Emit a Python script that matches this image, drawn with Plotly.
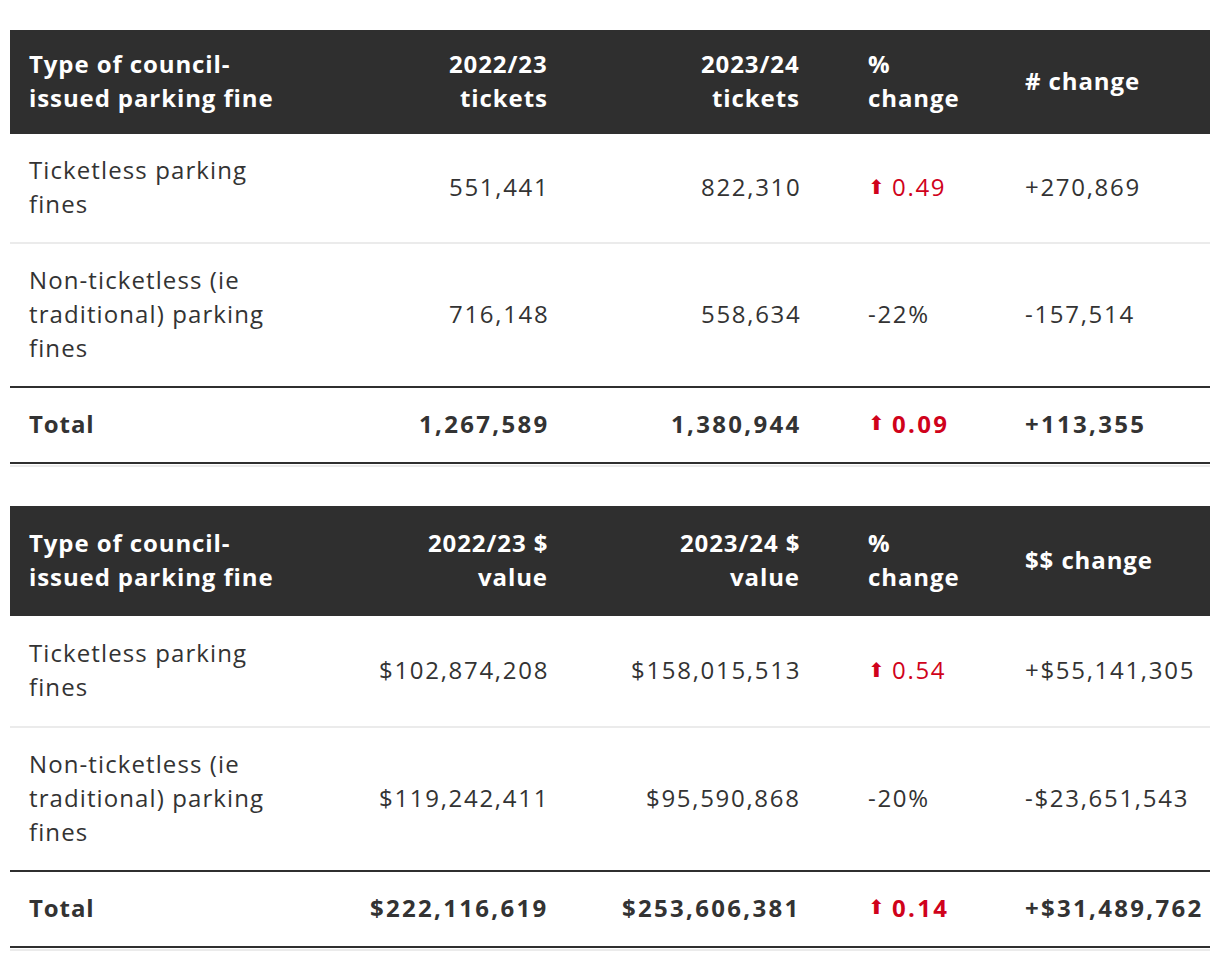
import plotly.graph_objects as go

# ---------------- data ----------------
row_labels = ["Ticketless parking<br>fines",
              "Non-ticketless (ie<br>traditional) parking<br>fines",
              "Total"]

t1_headers = ["Type of council-<br>issued parking fine", "2022/23<br>tickets",
              "2023/24<br>tickets", "%<br>change", "# change"]
tickets_2022_23 = [551441, 716148, 1267589]
tickets_2023_24 = [822310, 558634, 1380944]
tickets_pct_change = [0.49, -0.22, 0.09]
tickets_num_change = [270869, -157514, 113355]

t2_headers = ["Type of council-<br>issued parking fine", "2022/23 $<br>value",
              "2023/24 $<br>value", "%<br>change", "$$ change"]
value_2022_23 = [102874208, 119242411, 222116619]
value_2023_24 = [158015513, 95590868, 253606381]
value_pct_change = [0.54, -0.20, 0.14]
value_dollar_change = [55141305, -23651543, 31489762]

# ---------------- style ----------------
W, H = 1220, 958
OFF = 8  # page body margin
FONT = "'Open Sans', sans-serif"
DARK = "#2f2f2f"
TEXT = "#333333"
RED = "#d0021b"
LIGHT = "#ebebeb"
FS = 24
LINE_H = 34
DY = -2
X0, X1 = 10, 1210
COL_X = [27, 549, 801, 866, 1023]
COL_ANCHOR = ["left", "right", "right", "left", "left"]
ARROW_GAP = 24
# letter spacing (px) by (bold, numeric)
SPACING = {(False, False): 1.1, (False, True): 1.7, (True, False): 0.9, (True, True): 2.3}

fig = go.Figure()
fig.add_trace(go.Scatter(x=[OFF, W + OFF], y=[OFF, H + OFF], mode="markers",
                         marker=dict(opacity=0), hoverinfo="skip", showlegend=False))


def fmt_int(v):
    return f"{v:,}"


def fmt_dollar(v):
    return f"${v:,}"


def fmt_change(v, dollar=False):
    sign = "+" if v >= 0 else "-"
    return sign + ("$" if dollar else "") + f"{abs(v):,}"


def add_lines(x, yc, text, anchor, color, bold, numeric=False, size=FS):
    lines = text.split("<br>")
    n = len(lines)
    sp = SPACING[(bold, numeric)]
    for i, ln in enumerate(lines):
        y = yc + DY + (i - (n - 1) / 2) * LINE_H
        t = f"<span style='letter-spacing:{sp}px'>{ln}</span>"
        if bold:
            t = f"<b>{t}</b>"
        fig.add_annotation(x=x + (sp if anchor == "right" else 0), y=y, xref="x", yref="y",
                           text=t, showarrow=False, xanchor=anchor, yanchor="middle",
                           font=dict(family=FONT, size=size, color=color))


def add_pct(x, yc, v, bold):
    if v >= 0:
        fig.add_annotation(x=x, y=yc + DY, xref="x", yref="y", text="⬆", showarrow=False,
                           xanchor="left", yanchor="middle",
                           font=dict(family="DejaVu Sans", size=20, color=RED))
        add_lines(x + ARROW_GAP, yc, f"{v:.2f}", "left", RED, bold, numeric=True)
    else:
        add_lines(x, yc, f"{round(v * 100)}%", "left", TEXT, bold, numeric=True)


def hline(y, color):
    fig.add_shape(type="line", x0=X0, x1=X1, y0=y, y1=y, xref="x", yref="y",
                  line=dict(color=color, width=2))


def draw_table(top, heights, headers, c1, c2, pct, chg, f1, fchg):
    hh = heights[0]
    fig.add_shape(type="rect", x0=X0, x1=X1, y0=top, y1=top + hh, xref="x", yref="y",
                  fillcolor=DARK, line_width=0, layer="below")
    yc = top + hh / 2
    for j, htxt in enumerate(headers):
        add_lines(COL_X[j], yc, htxt, COL_ANCHOR[j], "white", True)
    y = top + hh
    for i in range(3):
        rh = heights[i + 1]
        yc = y + rh / 2
        bold = (i == 2)
        add_lines(COL_X[0], yc, row_labels[i], "left", TEXT, bold)
        add_lines(COL_X[1], yc, f1(c1[i]), "right", TEXT, bold, numeric=True)
        add_lines(COL_X[2], yc, f1(c2[i]), "right", TEXT, bold, numeric=True)
        add_pct(COL_X[3], yc, pct[i], bold)
        add_lines(COL_X[4], yc, fchg(chg[i]), "left", TEXT, bold, numeric=True)
        yb = y + rh
        if i == 0:
            hline(yb, LIGHT)
        elif i == 1:
            hline(yb, DARK)
        else:
            hline(yb + 3, LIGHT)
            hline(yb, DARK)
        y = yb


draw_table(30, [104, 109, 144, 76], t1_headers, tickets_2022_23, tickets_2023_24,
           tickets_pct_change, tickets_num_change, fmt_int, fmt_change)
draw_table(506, [110, 111, 144, 76], t2_headers, value_2022_23, value_2023_24,
           value_pct_change, value_dollar_change, fmt_dollar,
           lambda v: fmt_change(v, dollar=True))

fig.update_layout(
    width=W, height=H, margin=dict(l=0, r=0, t=0, b=0),
    paper_bgcolor="white", plot_bgcolor="white",
    xaxis=dict(range=[OFF, W + OFF], visible=False, fixedrange=True),
    yaxis=dict(range=[H + OFF, OFF], visible=False, fixedrange=True),
    showlegend=False,
)
fig.write_html("out.html", config={"displayModeBar": False})
